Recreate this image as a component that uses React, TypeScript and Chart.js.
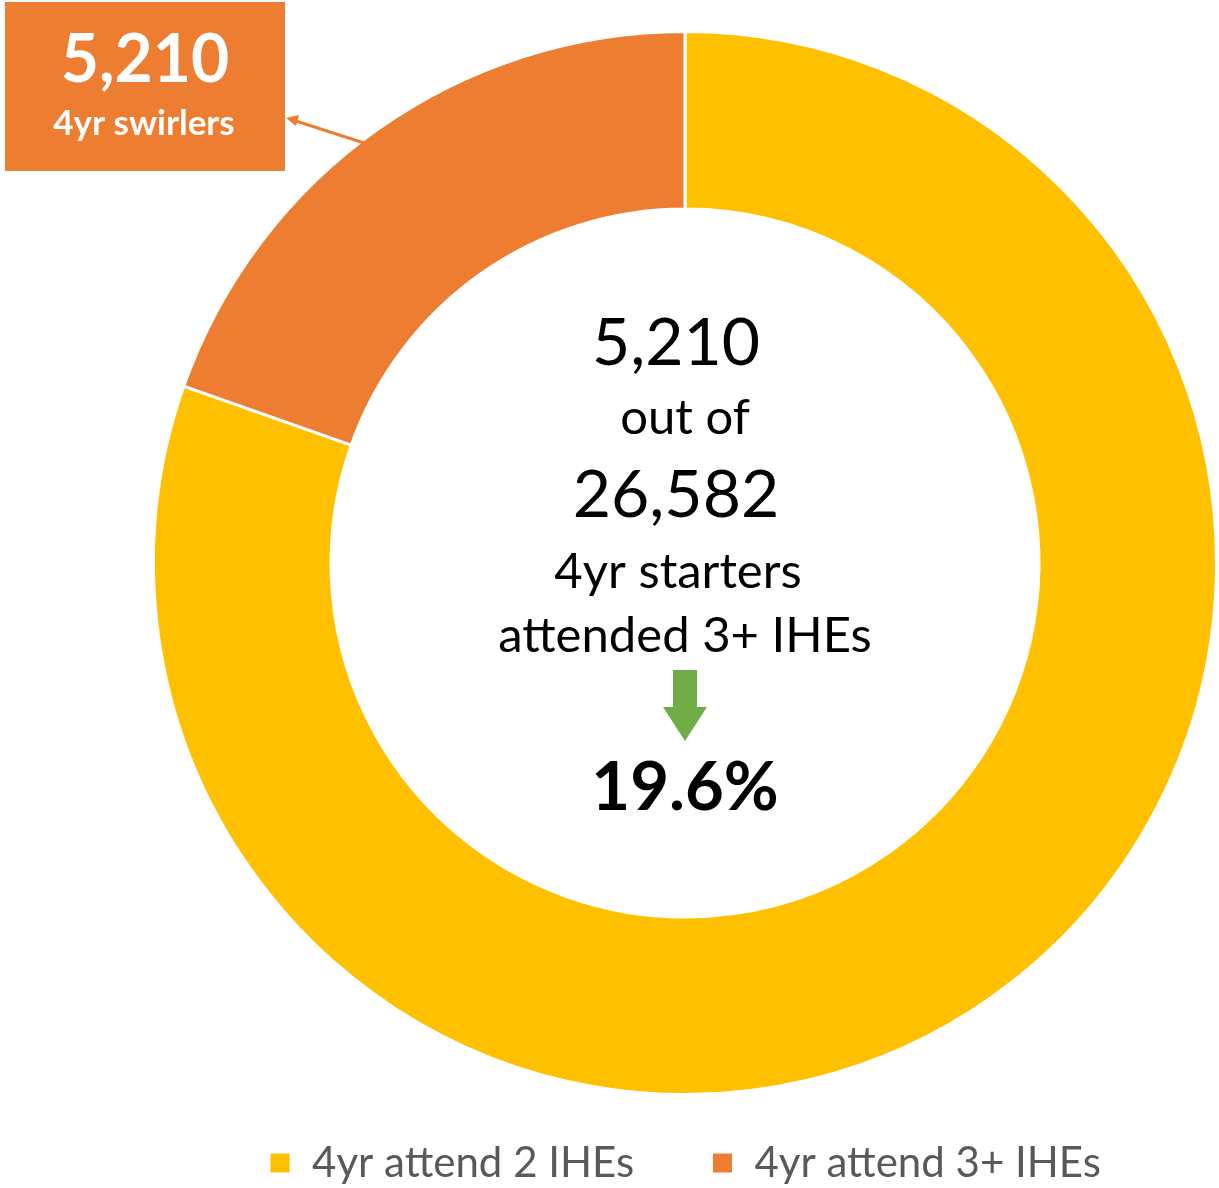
import React, { useEffect, useRef } from 'react';
import { Chart, registerables } from 'chart.js';

Chart.register(...registerables);

const categories = ['4yr attend 2 IHEs', '4yr attend 3+ IHEs'];
const values = [21372, 5210];
const colors = ['#FFC000', '#ED7D31'];
const centerLines = ['5,210', 'out of', '26,582', '4yr starters', 'attended 3+ IHEs'];
const percentLabel = '19.6%';
const calloutLines = ['5,210', '4yr swirlers'];

const FONT = 'Lato, "Open Sans", "DejaVu Sans", sans-serif';

const overlayPlugin = {
  id: 'overlay',
  afterDraw(chart: any) {
    const ctx = chart.ctx as CanvasRenderingContext2D;
    const arc = chart.getDatasetMeta(0).data[0];
    const cx = arc.x;
    const cy = arc.y;
    ctx.save();
    ctx.textAlign = 'center';
    ctx.textBaseline = 'alphabetic';
    ctx.fillStyle = '#000000';

    const big = `66px ${FONT}`;
    const mid = `49px ${FONT}`;
    ctx.font = big;
    ctx.fillText(centerLines[0], cx - 9, cy - 198);
    ctx.font = mid;
    ctx.fillText(centerLines[1], cx, cy - 129);
    ctx.font = big;
    ctx.fillText(centerLines[2], cx - 9, cy - 46);
    ctx.font = mid;
    ctx.fillText(centerLines[3], cx - 7, cy + 25);
    ctx.fillText(centerLines[4], cx, cy + 89);

    // green down arrow
    ctx.fillStyle = '#70AD47';
    ctx.beginPath();
    ctx.moveTo(cx - 12, cy + 107);
    ctx.lineTo(cx + 12, cy + 107);
    ctx.lineTo(cx + 12, cy + 144);
    ctx.lineTo(cx + 22, cy + 144);
    ctx.lineTo(cx, cy + 178);
    ctx.lineTo(cx - 22, cy + 144);
    ctx.lineTo(cx - 12, cy + 144);
    ctx.closePath();
    ctx.fill();

    ctx.fillStyle = '#000000';
    ctx.font = `bold 67px ${FONT}`;
    ctx.fillText(percentLabel, cx, cy + 247);

    // callout box
    ctx.fillStyle = '#ED7D31';
    ctx.fillRect(5, 2, 280, 169);
    ctx.fillStyle = '#FFFFFF';
    ctx.font = `bold 66px ${FONT}`;
    ctx.fillText(calloutLines[0], 145, 82);
    ctx.font = `bold 35px ${FONT}`;
    ctx.fillText(calloutLines[1], 144, 135);

    // connector arrow
    ctx.strokeStyle = '#ED7D31';
    ctx.fillStyle = '#ED7D31';
    ctx.lineWidth = 3;
    ctx.beginPath();
    ctx.moveTo(364, 143);
    ctx.lineTo(296, 121);
    ctx.stroke();
    ctx.beginPath();
    ctx.moveTo(286, 118);
    ctx.lineTo(299, 115);
    ctx.lineTo(296, 126);
    ctx.closePath();
    ctx.fill();
    ctx.restore();
  },
};

export default function App() {
  const ref = useRef<HTMLCanvasElement | null>(null);

  useEffect(() => {
    document.body.style.margin = '0';
    const canvas = ref.current;
    if (!canvas) return;
    const defaultGen = (Chart as any).overrides.doughnut.plugins.legend.labels.generateLabels;
    const chart = new Chart(canvas, {
      type: 'doughnut',
      data: {
        labels: categories,
        datasets: [
          {
            data: values,
            backgroundColor: colors,
            borderColor: '#FFFFFF',
            borderWidth: 3,
            hoverOffset: 0,
          },
        ],
      },
      options: {
        responsive: false,
        animation: false,
        cutout: '66.6%',
        layout: { padding: { top: 30, left: 152, right: 1, bottom: 0 } },
        plugins: {
          tooltip: { enabled: false },
          legend: {
            position: 'bottom',
            title: {
              display: true,
              text: ' ',
              font: { size: 1 },
              padding: { top: 42.8, bottom: 0 },
            },
            labels: {
              padding: 2,
              boxWidth: 22,
              boxHeight: 22,
              color: '#595959',
              font: { size: 42, family: FONT },
              generateLabels: (c: any) => {
                const items = defaultGen(c);
                if (items.length > 0) items[0].text = items[0].text + '\u00a0'.repeat(7);
                return items;
              },
            },
          },
        },
      } as any,
      plugins: [overlayPlugin],
    });
    return () => chart.destroy();
  }, []);

  return (
    <div style={{ width: 1219, height: 1188, overflow: 'hidden', background: '#fff' }}>
      <canvas ref={ref} width={1219} height={1194} style={{ display: 'block', width: 1219, height: 1194 }} />
    </div>
  );
}
